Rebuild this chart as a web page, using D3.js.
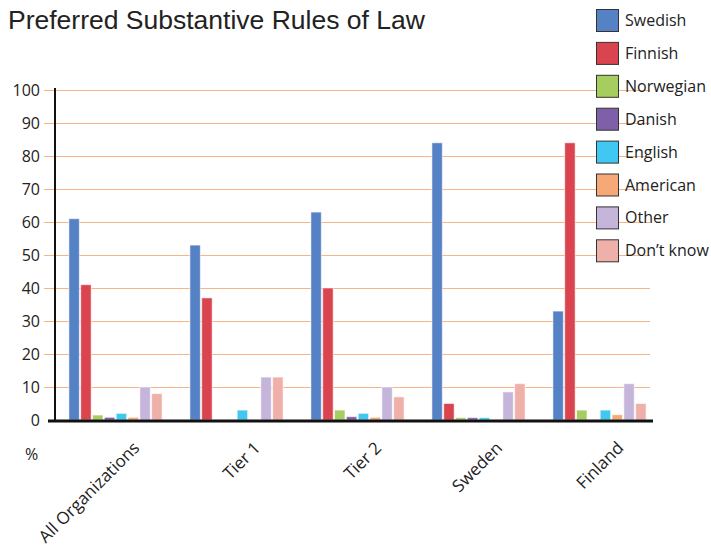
<!DOCTYPE html>
<html>
<head>
<meta charset="utf-8">
<script src="https://cdn.jsdelivr.net/npm/d3@7"></script>
<style>
  body { margin: 0; background: #fff; }
  svg { display: block; font-family: "Open Sans", "Noto Sans", sans-serif; }
</style>
</head>
<body>
<svg id="chart" width="711" height="554"></svg>
<script>
// Survey groups shown along the x axis
const groups = ["All Organizations", "Tier 1", "Tier 2", "Sweden", "Finland"];
// Legal systems (legend order)
const systems = ["Swedish", "Finnish", "Norwegian", "Danish", "English", "American", "Other", "Don\u2019t know"];
const colors = ["#5582C5", "#D9444F", "#A5CD5F", "#7F60A8", "#41C8F2", "#F6A877", "#C6B5DA", "#EEB0A8"];

// Percentage per legal system, one value per group
const swedish   = [61, 53, 63, 84, 33];
const finnish   = [41, 37, 40, 5, 84];
const norwegian = [1.5, 0, 3, 0.7, 3];
const danish    = [0.8, 0, 1, 0.7, 0];
const english   = [2, 3, 2, 0.7, 3];
const american  = [0.8, 0, 0.8, 0, 1.6];
const other     = [10, 13, 10, 8.5, 11];
const dontKnow  = [8, 13, 7, 11, 5];
const yTicks = [0, 10, 20, 30, 40, 50, 60, 70, 80, 90, 100];

const series = [swedish, finnish, norwegian, danish, english, american, other, dontKnow];

const svg = d3.select("#chart");
const margin = { left: 55, right: 51, top: 90, bottom: 134 };
const W = 711, H = 554;

const x0 = d3.scaleBand().domain(groups).range([margin.left, W - margin.right]).paddingInner(0.23).paddingOuter(0.115);
const x1 = d3.scaleBand().domain(systems).range([0, x0.bandwidth()]).paddingInner(0.12);
const y = d3.scaleLinear().domain([0, 100]).range([H - margin.bottom, margin.top]);

// Title
svg.append("text")
  .attr("x", 8).attr("y", 29)
  .attr("font-size", 26.5)
  .attr("font-family", "'Liberation Sans', Arial, sans-serif")
  .attr("fill", "#222")
  .text("Preferred Substantive Rules of Law");

// Horizontal gridlines (half-pixel offset keeps them crisp)
svg.append("g")
  .selectAll("line")
  .data(yTicks.filter(d => d > 0))
  .join("line")
  .attr("x1", 44).attr("x2", 650)
  .attr("y1", d => y(d) + 0.5).attr("y2", d => y(d) + 0.5)
  .attr("stroke", "#F8B486").attr("stroke-width", 1);

// Y axis labels
const yAxis = d3.axisLeft(y).tickValues(yTicks).tickSize(0).tickPadding(0);
const ya = svg.append("g").attr("transform", "translate(40,0)").call(yAxis);
ya.select(".domain").remove();
ya.selectAll("text").attr("font-size", 16).attr("fill", "#222")
  .attr("font-family", "'Open Sans', sans-serif");

// Bars
const gBars = svg.append("g");
groups.forEach((g, gi) => {
  gBars.append("g")
    .attr("transform", `translate(${x0(g)},0)`)
    .selectAll("rect")
    .data(systems.map((s, si) => ({ s, v: series[si][gi], c: colors[si] })))
    .join("rect")
    .attr("x", d => x1(d.s))
    .attr("width", x1.bandwidth())
    .attr("y", d => y(d.v))
    .attr("height", d => y(0) - y(d.v))
    .attr("fill", d => d.c)
    .attr("stroke", "rgba(255,255,255,0.55)")
    .attr("stroke-width", 1);
});

// Axis lines
svg.append("line")
  .attr("x1", 55).attr("x2", 55).attr("y1", y(100) - 2).attr("y2", y(0))
  .attr("stroke", "#111").attr("stroke-width", 2);
svg.append("line")
  .attr("x1", 48).attr("x2", 653).attr("y1", y(0) + 1).attr("y2", y(0) + 1)
  .attr("stroke", "#111").attr("stroke-width", 3);

// Category labels, rotated
svg.append("g")
  .selectAll("text")
  .data(groups)
  .join("text")
  .attr("transform", d => `translate(${x0(d) + x0.bandwidth() / 2 + 25},${y(0) + 29}) rotate(-45)`)
  .attr("text-anchor", "end")
  .attr("font-size", 17)
  .attr("fill", "#222")
  .text(d => d);

// Unit label
svg.append("text")
  .attr("x", 25).attr("y", 460)
  .attr("font-size", 16).attr("fill", "#222")
  .text("%");

// Legend
const legend = svg.append("g");
systems.forEach((s, i) => {
  const ly = 9 + i * 32.9;
  legend.append("rect")
    .attr("x", 596.5).attr("y", ly + 0.5)
    .attr("width", 22).attr("height", 22)
    .attr("fill", colors[i])
    .attr("stroke", "#333").attr("stroke-width", 1);
  legend.append("text")
    .attr("x", 625).attr("y", ly + 17)
    .attr("font-size", 16).attr("fill", "#222")
    .text(s);
});
</script>
</body>
</html>
